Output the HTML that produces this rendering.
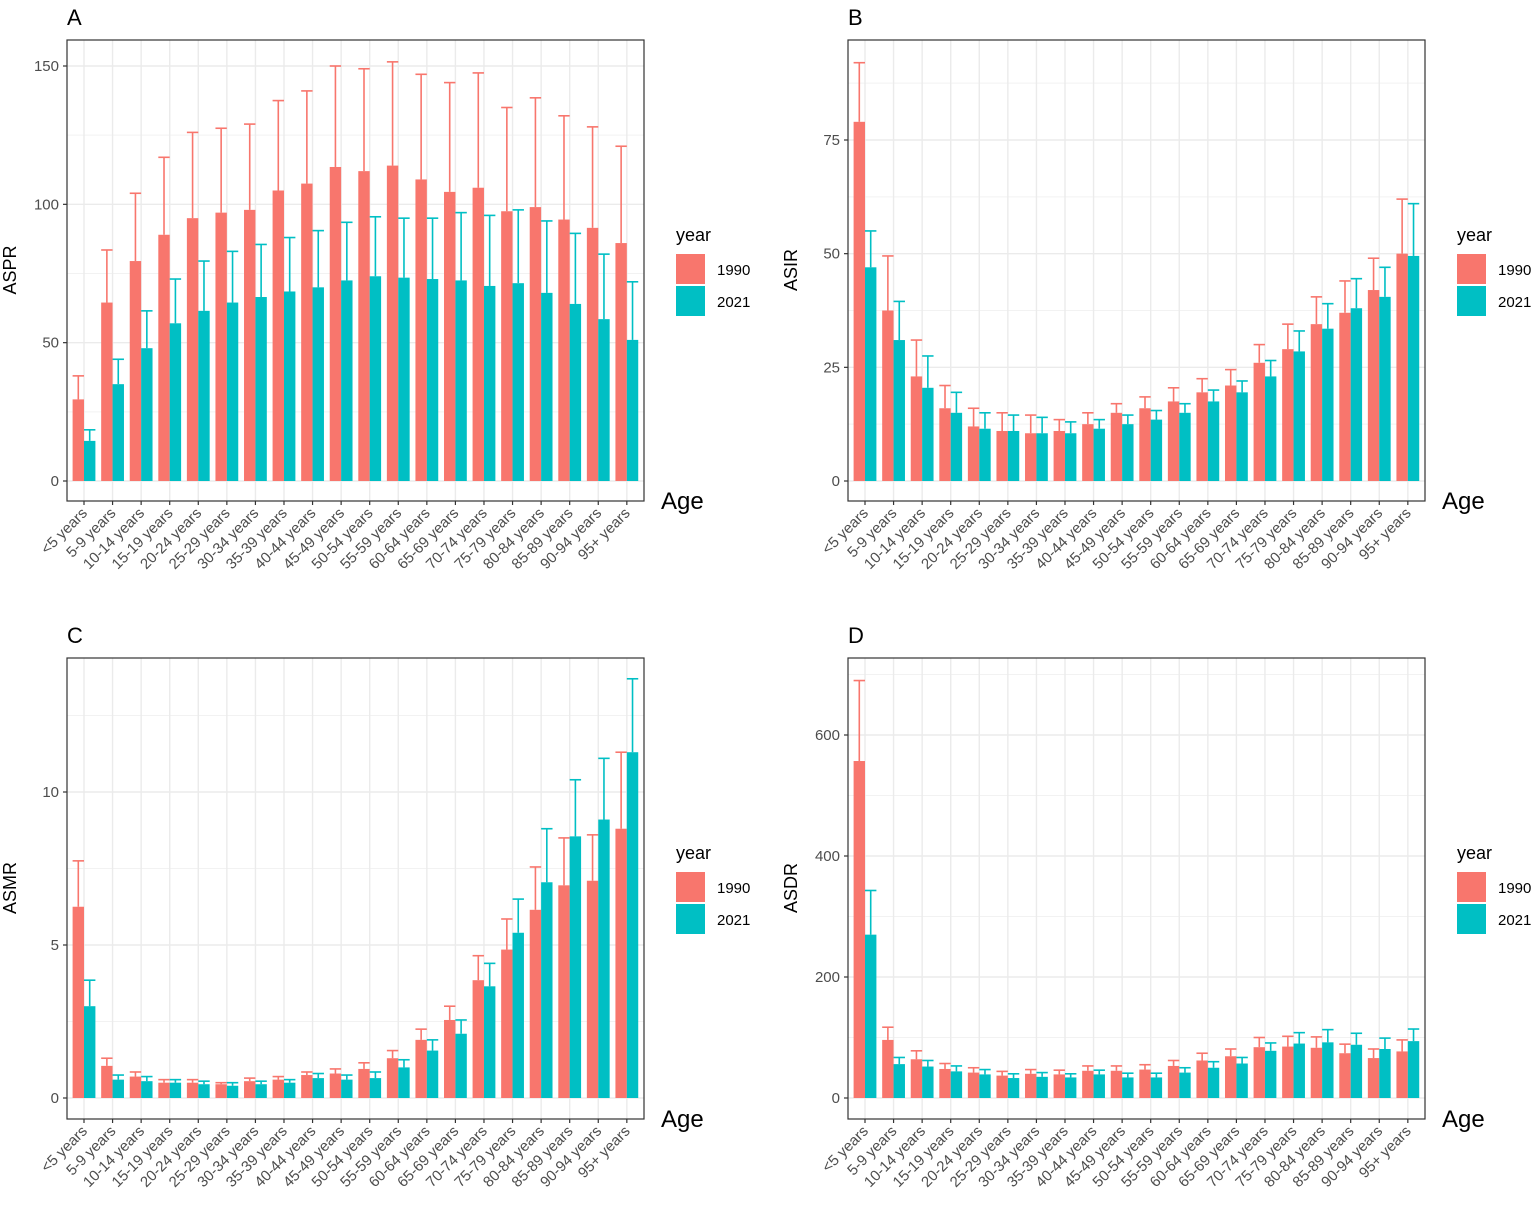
<!DOCTYPE html>
<html><head><meta charset="utf-8"><style>
html,body{margin:0;padding:0;background:#fff;}
svg{display:block;font-family:"Liberation Sans",Arial,sans-serif;}
</style></head><body>
<svg id="s" width="1535" height="1205" xmlns="http://www.w3.org/2000/svg"></svg>
<script>
const cats=["<5 years","5-9 years","10-14 years","15-19 years","20-24 years","25-29 years","30-34 years","35-39 years","40-44 years","45-49 years","50-54 years","55-59 years","60-64 years","65-69 years","70-74 years","75-79 years","80-84 years","85-89 years","90-94 years","95+ years"];
const A=[[29.5,38,14.5,18.5],[64.5,83.5,35,44],[79.5,104,48,61.5],[89,117,57,73],[95,126,61.5,79.5],[97,127.5,64.5,83],[98,129,66.5,85.5],[105,137.5,68.5,88],[107.5,141,70,90.5],[113.5,150,72.5,93.5],[112,149,74,95.5],[114,151.5,73.5,95],[109,147,73,95],[104.5,144,72.5,97],[106,147.5,70.5,96],[97.5,135,71.5,98],[99,138.5,68,94],[94.5,132,64,89.5],[91.5,128,58.5,82],[86,121,51,72]];
const B=[[79,92,47,55],[37.5,49.5,31,39.5],[23,31,20.5,27.5],[16,21,15,19.5],[12,16,11.5,15],[11,15,11,14.5],[10.5,14.5,10.5,14],[11,13.5,10.5,13],[12.5,15,11.5,13.5],[15,17,12.5,14.5],[16,18.5,13.5,15.5],[17.5,20.5,15,17],[19.5,22.5,17.5,20],[21,24.5,19.5,22],[26,30,23,26.5],[29,34.5,28.5,33],[34.5,40.5,33.5,39],[37,44,38,44.5],[42,49,40.5,47],[50,62,49.5,61]];
const C=[[6.25,7.75,3.0,3.85],[1.05,1.3,0.6,0.75],[0.7,0.85,0.55,0.7],[0.5,0.6,0.5,0.6],[0.5,0.6,0.45,0.55],[0.45,0.5,0.4,0.5],[0.55,0.65,0.45,0.55],[0.6,0.7,0.5,0.6],[0.75,0.85,0.65,0.8],[0.8,0.95,0.6,0.75],[0.95,1.15,0.65,0.85],[1.3,1.55,1.0,1.25],[1.9,2.25,1.55,1.9],[2.55,3.0,2.1,2.55],[3.85,4.65,3.65,4.4],[4.85,5.85,5.4,6.5],[6.15,7.55,7.05,8.8],[6.95,8.5,8.55,10.4],[7.1,8.6,9.1,11.1],[8.8,11.3,11.3,13.7]];
const D=[[557,690,270,343],[96,117,56,67],[64,78,52,62],[48,57,44,53],[42,50,39,47],[37,44,33,40],[40,47,35,42],[39,46,34,40],[45,53,39,46],[45,53,34,41],[47,55,34,41],[53,62,42,50],[62,74,50,60],[69,81,57,67],[84,100,78,91],[85,102,90,108],[83,101,92,113],[74,89,88,107],[66,81,81,99],[77,96,94,114]];
let h='';
function panel(L,lab,data,x0,y0top,zeroY,scale,ticks,minor,ytitle){
  const x1=x0+577,yb=y0top+461;
  const sp=28.57,first=x0+17,bw=11.4;
  h+=`<text x="${x0}" y="${y0top-15}" font-size="22">${L}</text>`;
  h+=`<rect x="${x0}" y="${y0top}" width="577" height="461" fill="#fff"/>`;
  minor.forEach(v=>{const y=zeroY-v*scale;h+=`<line x1="${x0}" x2="${x1}" y1="${y}" y2="${y}" stroke="#f2f2f2" stroke-width="1"/>`;});
  ticks.forEach(v=>{const y=zeroY-v*scale;h+=`<line x1="${x0}" x2="${x1}" y1="${y}" y2="${y}" stroke="#ebebeb" stroke-width="1.4"/>`;});
  for(let i=0;i<20;i++){const x=first+i*sp;h+=`<line x1="${x}" x2="${x}" y1="${y0top}" y2="${yb}" stroke="#ebebeb" stroke-width="1.4"/>`;}
  data.forEach((d,i)=>{const c=first+i*sp;
    [[d[0],d[1],c-bw,'#F8766D'],[d[2],d[3],c,'#00BFC4']].forEach(([v,u,bx,col])=>{
      const yt=zeroY-v*scale,yu=zeroY-u*scale,cx=bx+bw/2;
      h+=`<rect x="${bx}" y="${yt}" width="${bw}" height="${zeroY-yt}" fill="${col}"/>`;
      h+=`<line x1="${cx}" x2="${cx}" y1="${yt}" y2="${yu}" stroke="${col}" stroke-width="1.6"/>`;
      h+=`<line x1="${bx}" x2="${bx+bw}" y1="${yu}" y2="${yu}" stroke="${col}" stroke-width="1.6"/>`;
    });});
  h+=`<rect x="${x0}" y="${y0top}" width="577" height="461" fill="none" stroke="#333" stroke-width="1.2"/>`;
  ticks.forEach(v=>{const y=zeroY-v*scale;h+=`<line x1="${x0-4}" x2="${x0}" y1="${y}" y2="${y}" stroke="#333" stroke-width="1.2"/><text x="${x0-8}" y="${y+5}" font-size="15" fill="#4d4d4d" text-anchor="end">${v}</text>`;});
  cats.forEach((c,i)=>{const x=first+i*sp;h+=`<line x1="${x}" x2="${x}" y1="${yb}" y2="${yb+4}" stroke="#333" stroke-width="1.2"/><text transform="translate(${x+4},${yb+13}) rotate(-45)" font-size="15" fill="#4d4d4d" text-anchor="end">${c.replace('<','&lt;')}</text>`;});
  h+=`<text transform="translate(${x0-51},${y0top+230}) rotate(-90)" font-size="18" text-anchor="middle">${ytitle}</text>`;
  h+=`<text x="${x1+17}" y="${y0top+469}" font-size="24">Age</text>`;
  const lx=x1+32,ly=y0top;
  h+=`<text x="${lx}" y="${ly+201}" font-size="18">year</text>`;
  h+=`<rect x="${lx}" y="${ly+214}" width="29" height="30" fill="#F8766D"/><text x="${lx+41}" y="${ly+235}" font-size="15">1990</text>`;
  h+=`<rect x="${lx}" y="${ly+246}" width="29" height="30" fill="#00BFC4"/><text x="${lx+41}" y="${ly+267}" font-size="15">2021</text>`;
}
panel('A','',A,67,40,481,415/150,[0,50,100,150],[25,75,125],'ASPR');
panel('B','',B,848,40,481,341/75,[0,25,50,75],[12.5,37.5,62.5,87.5],'ASIR');
panel('C','',C,67,658,1098,30.6,[0,5,10],[2.5,7.5,12.5],'ASMR');
panel('D','',D,848,658,1098,363/600,[0,200,400,600],[100,300,500,700],'ASDR');
document.getElementById('s').innerHTML=h;
</script>
</body></html>
